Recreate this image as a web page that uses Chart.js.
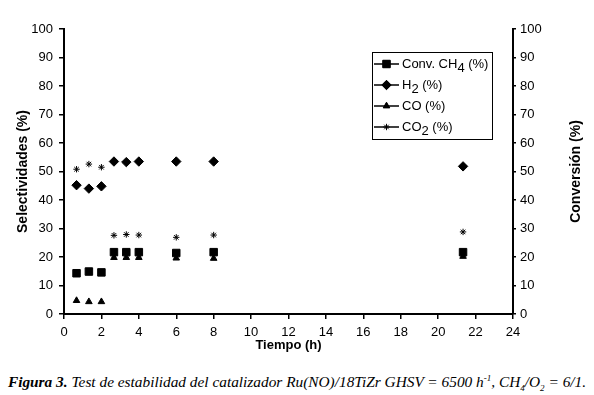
<!DOCTYPE html>
<html>
<head>
<meta charset="utf-8">
<script src="https://cdn.jsdelivr.net/npm/chart.js@4"></script>
<style>
  body { margin: 0; background: #fff; }
  #wrap { width: 594px; height: 395px; position: relative; }
  #caption {
    position: absolute; left: 0; top: 373px; width: 594px; text-align: center;
    font-family: "Liberation Serif", "Times New Roman", serif; font-style: italic;
    font-size: 15.35px; color: #000; white-space: nowrap;
  }
</style>
</head>
<body>
<div id="wrap">
  <canvas id="chart" width="594" height="365"></canvas>
  <div id="caption"><b>Figura 3.</b> Test de estabilidad del catalizador Ru(NO)/18TiZr GHSV = 6500 h<sup style="font-size:9px">-1</sup>, CH<sub style="font-size:9px">4</sub>/O<sub style="font-size:9px">2</sub> = 6/1.</div>
</div>
<script>
// time on stream (h)
const tiempo = [0.67, 1.33, 2, 2.67, 3.33, 4, 6, 8, 21.33];
// values (%)
const convCH4 = [14.3, 14.9, 14.6, 21.7, 21.7, 21.7, 21.4, 21.7, 21.7];
const selH2 = [45.2, 44.0, 44.8, 53.5, 53.3, 53.5, 53.5, 53.5, 51.8];
const selCO = [4.7, 4.3, 4.3, 19.8, 19.8, 19.8, 19.6, 19.5, 20.2];
const selCO2 = [50.8, 52.6, 51.5, 27.6, 27.9, 27.7, 26.9, 27.7, 28.8];
// legend text: [before subscript, subscript, after]
const legendNames = [['Conv. CH', '4', ' (%)'], ['H', '2', ' (%)'], ['CO (%)', '', ''], ['CO', '2', ' (%)']];

const pts = (ys) => tiempo.map((t, i) => ({x: t, y: ys[i]}));
const sans = '"Liberation Sans", Arial, sans-serif';

const series = [
  {data: convCH4, style: 'rect', r: 5.3, axis: 'y1'},
  {data: selH2, style: 'rectRot', r: 4.7, axis: 'y'},
  {data: selCO, style: 'triangle', r: 3.8, axis: 'y'},
  {data: selCO2, style: 'star', r: 3.2, axis: 'y'}
];

// legend box with line + marker like the spreadsheet original
const boxLegend = {
  id: 'boxLegend',
  afterDraw(chart) {
    const ctx = chart.ctx;
    ctx.save();
    ctx.strokeStyle = '#000';
    ctx.lineWidth = 1;
    ctx.strokeRect(372.5, 52.5, 120, 87);
    const rows = [64, 85, 106, 127];
    series.forEach((s, i) => {
      const y = rows[i];
      ctx.beginPath();
      ctx.lineWidth = 1.5;
      ctx.moveTo(374, y); ctx.lineTo(399, y);
      ctx.stroke();
      ctx.lineWidth = 1;
      ctx.fillStyle = '#000';
      Chart.helpers.drawPoint(ctx, {pointStyle: s.style, radius: s.r, borderWidth: 1}, 386.5, y);
      if (s.style !== 'star') ctx.fill();
      const [a, sub, b] = legendNames[i];
      ctx.font = '13px ' + sans;
      ctx.textBaseline = 'middle';
      ctx.textAlign = 'left';
      let x = 402;
      ctx.fillText(a, x, y);
      x += ctx.measureText(a).width;
      if (sub) {
        ctx.fillText(sub, x, y + 4);
        x += ctx.measureText(sub).width;
        ctx.fillText(b, x, y);
      }
    });
    // right axis title, reading bottom to top
    const ca = chart.chartArea;
    ctx.translate(576, (ca.top + ca.bottom) / 2);
    ctx.rotate(-Math.PI / 2);
    ctx.font = 'bold 14px ' + sans;
    ctx.textAlign = 'center';
    ctx.textBaseline = 'middle';
    ctx.fillText('Conversión (%)', 0, 0);
    ctx.restore();
  }
};

new Chart(document.getElementById('chart'), {
  type: 'scatter',
  data: {
    datasets: series.map((s, i) => ({
      label: legendNames[i].join(''),
      data: pts(s.data),
      yAxisID: s.axis,
      pointStyle: s.style,
      pointRadius: s.r,
      pointHoverRadius: s.r,
      backgroundColor: '#000',
      borderColor: '#000',
      borderWidth: 1,
      showLine: false
    }))
  },
  options: {
    responsive: false,
    animation: false,
    layout: {padding: {top: 29, left: 0, right: 0, bottom: 0}},
    plugins: {legend: {display: false}, tooltip: {enabled: false}},
    scales: {
      x: {
        type: 'linear', min: 0, max: 24,
        ticks: {stepSize: 2, color: '#000', font: {family: sans, size: 13}, padding: 6, maxRotation: 0},
        grid: {drawOnChartArea: false, color: '#000', tickLength: 5, lineWidth: 1.5},
        border: {color: '#000', width: 2},
        title: {display: true, text: 'Tiempo (h)', color: '#000', font: {family: sans, size: 13, weight: 'bold'}, padding: {top: 0, bottom: 12}},
        afterFit(scale) { scale.height = 51; }
      },
      y: {
        position: 'left', min: 0, max: 100,
        ticks: {stepSize: 10, color: '#000', font: {family: sans, size: 13}, padding: 6},
        grid: {drawOnChartArea: false, color: '#000', tickLength: 5, lineWidth: 1.5},
        border: {color: '#000', width: 2},
        title: {display: true, text: 'Selectividades (%)', color: '#000', font: {family: sans, size: 14, weight: 'bold'}, padding: {top: 15, bottom: 0}},
        afterFit(scale) { scale.width = 64; }
      },
      y1: {
        position: 'right', min: 0, max: 100,
        ticks: {stepSize: 10, color: '#000', font: {family: sans, size: 13}, padding: 4},
        grid: {drawOnChartArea: false, color: '#000', tickLength: 3, lineWidth: 1.5},
        border: {color: '#000', width: 2},
        afterFit(scale) { scale.width = 81; }
      }
    }
  },
  plugins: [boxLegend]
});
</script>
</body>
</html>
